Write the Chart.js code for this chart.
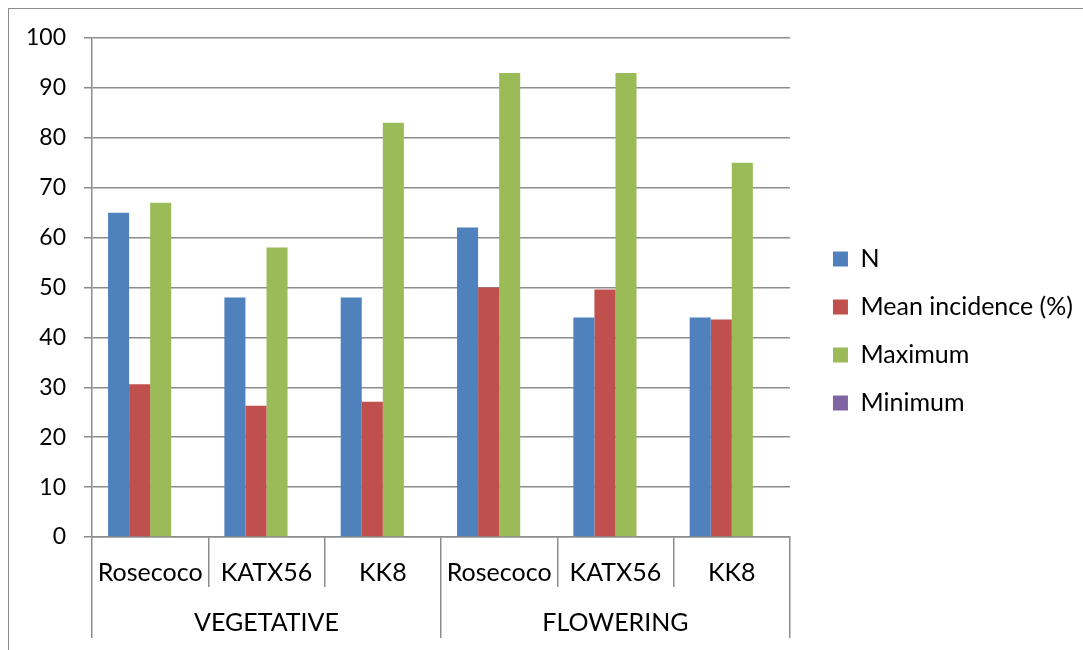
<!DOCTYPE html>
<html>
<head>
<meta charset="utf-8">
<script src="https://cdn.jsdelivr.net/npm/chart.js@4.4.0/dist/chart.umd.min.js"></script>
<style>
    body { margin: 0; background: #fff; overflow: hidden; }
    #frame { position: absolute; left: 8px; top: 8px; width: 1200px; height: 800px; border: 1px solid #8c8c8c; }
    #wrap { position: absolute; left: 0; top: 0; width: 1083px; height: 650px; }
</style>
</head>
<body>
<div id="frame"></div>
<div id="wrap"><canvas id="chart"></canvas></div>
<script>
var varieties = ['Rosecoco', 'KATX56', 'KK8', 'Rosecoco', 'KATX56', 'KK8']
var stages = ['VEGETATIVE', 'FLOWERING']
var nValues = [65, 48, 48, 62, 44, 44]
var meanIncidence = [30.6, 26.3, 27.1, 50, 49.6, 43.6]
var maximum = [67, 58, 83, 93, 93, 75]
var minimum = [0, 0, 0, 0, 0, 0]

var fontFamily = "Lato, 'Open Sans', sans-serif"
var lineGrey = '#8c8c8c'

const ctx = document.getElementById('chart').getContext('2d')
const data = {
    labels: varieties,
    datasets: [
        { label: 'N', data: nValues, backgroundColor: '#4f81bd' },
        { label: 'Mean incidence (%)', data: meanIncidence, backgroundColor: '#c0504d' },
        { label: 'Maximum', data: maximum, backgroundColor: '#9bbb59' },
        { label: 'Minimum', data: minimum, backgroundColor: '#8064a2' }
    ]
};
const config = {
    type: 'bar',
    data: data,
    options: {
        responsive: true,
        maintainAspectRatio: false,
        animation: false,
        categoryPercentage: 0.724,
        barPercentage: 1,
        layout: {
            padding: { left: 8, top: 24, right: 0, bottom: 12 }
        },
        plugins: {
            tooltip: { enabled: false },
            title: { display: false },
            legend: {
                position: 'right',
                align: 'center',
                maxWidth: 320,
                labels: {
                    boxWidth: 15,
                    boxHeight: 15,
                    padding: 23,
                    color: '#000',
                    font: { family: fontFamily, size: 25 }
                }
            }
        },
        scales: {
            x: {
                position: 'bottom',
                offset: true,
                grid: {
                    offset: true,
                    drawOnChartArea: false,
                    drawTicks: true,
                    tickLength: 50,
                    color: lineGrey,
                    lineWidth: 1.5
                },
                border: { display: true, color: lineGrey, width: 1.5 },
                ticks: {
                    color: '#000',
                    font: { family: fontFamily, size: 25 },
                    padding: -29,
                    maxRotation: 0,
                    autoSkip: false
                },
                afterFit: function(scale){ scale.height = 50 }
            },
            x2: {
                type: 'category',
                position: 'bottom',
                labels: stages,
                offset: true,
                grid: {
                    offset: true,
                    drawOnChartArea: false,
                    drawTicks: true,
                    tickLength: 51,
                    color: lineGrey,
                    lineWidth: 1.5
                },
                border: { display: false },
                ticks: {
                    color: '#000',
                    font: { family: fontFamily, size: 25 },
                    padding: -30,
                    maxRotation: 0,
                    autoSkip: false
                },
                afterFit: function(scale){ scale.height = 51 }
            },
            xTop: {
                type: 'linear',
                position: 'top',
                grid: { display: false },
                border: { display: false },
                ticks: { display: false },
                afterFit: function(scale){ scale.height = 14 }
            },
            y: {
                min: 0,
                max: 100,
                ticks: {
                    stepSize: 10,
                    color: '#000',
                    padding: 18,
                    font: { family: fontFamily, size: 23 }
                },
                grid: {
                    color: lineGrey,
                    lineWidth: 1.5,
                    tickLength: 8
                },
                border: { display: true, color: lineGrey, width: 1.5 },
                afterFit: function(scale){ scale.width = 84 }
            },
            yRight: {
                type: 'linear',
                position: 'right',
                grid: { display: false },
                border: { display: false },
                ticks: { display: false },
                afterFit: function(scale){ scale.width = 20 }
            }
        }
    }
};
const myChart = new Chart(ctx, config)
</script>
</body>
</html>
